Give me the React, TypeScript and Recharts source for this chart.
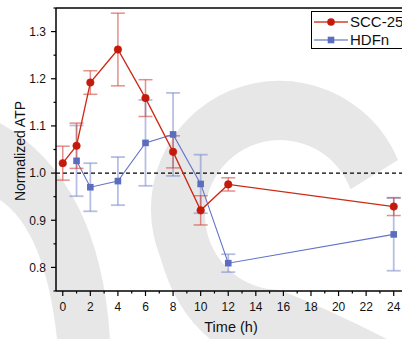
import React from "react";
import {
  LineChart,
  Line,
  XAxis,
  YAxis,
  ErrorBar,
  ReferenceLine,
  Legend,
} from "recharts";

const FONT = "'Liberation Sans', Arial, sans-serif";

// SCC-25 (red circles)
const sccTime = [0, 1, 2, 4, 6, 8, 10, 12, 24];
const sccMean = [1.021, 1.058, 1.192, 1.262, 1.159, 1.045, 0.921, 0.976, 0.929];
const sccErr = [0.036, 0.048, 0.025, 0.077, 0.039, 0.034, 0.031, 0.014, 0.019];

// HDFn (blue squares)
const hdfTime = [1, 2, 4, 6, 8, 10, 12, 24];
const hdfMean = [1.026, 0.97, 0.983, 1.064, 1.082, 0.977, 0.809, 0.87];
const hdfErr = [0.075, 0.051, 0.051, 0.091, 0.088, 0.062, 0.019, 0.077];

const xTicks = [0, 1, 2, 3, 4, 5, 6, 7, 8, 9, 10, 11, 12, 13, 14, 15, 16, 17, 18, 19, 20, 21, 22, 23, 24];
const yTicks = [0.75, 0.8, 0.85, 0.9, 0.95, 1.0, 1.05, 1.1, 1.15, 1.2, 1.25, 1.3, 1.35];

const RED = "#c41a0b";
const BLUE = "#5b6dbf";

const sccData = sccTime.map((t, i) => ({ t, v: sccMean[i], err: sccErr[i] }));
const hdfData = hdfTime.map((t, i) => ({ t, v: hdfMean[i], err: hdfErr[i] }));

const XTick = (props: any) => {
  const { x, y, payload } = props;
  const v = payload.value;
  const major = v % 2 === 0;
  return (
    <g>
      <line x1={x} x2={x} y1={y} y2={y + (major ? 5 : 2.5)} stroke="#000" strokeWidth={1.2} />
      {major && (
        <text x={x} y={y + 20} textAnchor="middle" fontSize={12} fontFamily={FONT} fill="#111">
          {v}
        </text>
      )}
    </g>
  );
};

const YTick = (props: any) => {
  const { x, y, payload } = props;
  const v = payload.value;
  const major = Math.round(v * 100) % 10 === 0;
  return (
    <g>
      <line x1={x - (major ? 5 : 2.5)} x2={x} y1={y} y2={y} stroke="#000" strokeWidth={1.2} />
      {major && (
        <text x={x - 10} y={y + 4.3} textAnchor="end" fontSize={12} fontFamily={FONT} fill="#111">
          {v.toFixed(1)}
        </text>
      )}
    </g>
  );
};

const CircleDot = (props: any) => {
  const { cx, cy, key } = props;
  return <circle key={key} cx={cx} cy={cy} r={3.8} fill={RED} stroke={RED} strokeWidth={0.5} />;
};

const SquareDot = (props: any) => {
  const { cx, cy, key } = props;
  return <rect key={key} x={cx - 3.3} y={cy - 3.3} width={6.6} height={6.6} fill={BLUE} />;
};

const LegendBox = () => (
  <div
    style={{
      position: "relative",
      width: 110,
      height: 36,
      border: "1px solid #000",
      background: "#fff",
      fontFamily: FONT,
      fontSize: 15,
      color: "#111",
    }}
  >
    {[
      { name: "SCC-25", color: RED, line: "#d0402e", square: false, top: 10 },
      { name: "HDFn", color: BLUE, line: "#8290d2", square: true, top: 28 },
    ].map((r) => (
      <div key={r.name} style={{ position: "absolute", left: 0, top: r.top - 9, height: 18 }}>
        <svg width={38} height={18} style={{ position: "absolute", left: 1, top: 0 }}>
          <line x1={1} x2={35} y1={9} y2={9} stroke={r.line} strokeWidth={1.3} />
          {r.square ? (
            <rect x={14.7} y={5.7} width={6.6} height={6.6} fill={r.color} />
          ) : (
            <circle cx={18} cy={9} r={3.8} fill={r.color} />
          )}
        </svg>
        <span style={{ position: "absolute", left: 38, top: 0, lineHeight: "18px", whiteSpace: "nowrap" }}>
          {r.name}
        </span>
      </div>
    ))}
  </div>
);

export default function App() {
  return (
    <div
      style={{
        position: "absolute",
        left: 0,
        top: 0,
        width: 402,
        height: 339,
        overflow: "hidden",
        background: "#fff",
      }}
    >
      {/* faint watermark behind the plot */}
      <svg width={402} height={339} style={{ position: "absolute", left: 0, top: 0 }}>
        <path
          d="M 398 160 A 127 127 0 0 0 160.7 258.4 Q 175 310 210 339 L 387 339 Q 330 310 280 290 A 75 75 0 1 1 350.5 189.3 Z"
          fill="#e7e7e7"
        />
        <path d="M 0 123 Q 100 180 110 339 L 57 339 Q 45 230 0 200 Z" fill="#e7e7e7" />
      </svg>
      <div style={{ position: "absolute", left: 0, top: 0 }}>
        <LineChart width={402} height={339} margin={{ top: 8, right: 0, left: 0, bottom: 0 }}>
          <XAxis
            dataKey="t"
            type="number"
            domain={[-0.49, 24.6]}
            ticks={xTicks}
            interval={0}
            height={48}
            tickSize={0}
            tickMargin={0}
            tickLine={false}
            axisLine={{ stroke: "#000", strokeWidth: 1.5 }}
            tick={<XTick />}
            allowDataOverflow
            label={{
              content: () => (
                <text x={231} y={332} textAnchor="middle" fontSize={14.5} fontFamily={FONT} fill="#111">
                  Time (h)
                </text>
              ),
            }}
          />
          <YAxis
            type="number"
            domain={[0.75, 1.35]}
            ticks={yTicks}
            interval={0}
            width={56}
            tickSize={0}
            tickMargin={0}
            tickLine={false}
            axisLine={{ stroke: "#000", strokeWidth: 1.5 }}
            tick={<YTick />}
            allowDataOverflow
            label={{
              content: () => (
                <text
                  x={20}
                  y={151}
                  transform="rotate(-90 20 151)"
                  textAnchor="middle"
                  dominantBaseline="central"
                  fontSize={14}
                  fontFamily={FONT}
                  fill="#111"
                >
                  Normalized ATP
                </text>
              ),
            }}
          />
          <ReferenceLine y={1.35} stroke="#000" strokeWidth={1.5} ifOverflow="visible" />
          <ReferenceLine y={1} stroke="#000" strokeWidth={1.2} strokeDasharray="4 3" />
          <Line
            data={hdfData}
            dataKey="v"
            type="linear"
            stroke="#6272c8"
            strokeWidth={1.1}
            dot={SquareDot}
            activeDot={false}
            isAnimationActive={false}
          >
            <ErrorBar dataKey="err" width={7} stroke="rgba(120,138,205,0.55)" strokeWidth={1.8} direction="y" />
          </Line>
          <Line
            data={sccData}
            dataKey="v"
            type="linear"
            stroke="#cc2a14"
            strokeWidth={1.3}
            dot={CircleDot}
            activeDot={false}
            isAnimationActive={false}
          >
            <ErrorBar dataKey="err" width={7} stroke="rgba(210,70,60,0.6)" strokeWidth={1.5} direction="y" />
          </Line>
          <Legend
            layout="vertical"
            align="center"
            verticalAlign="middle"
            wrapperStyle={{ position: "absolute", top: 11, left: 311, width: 120 }}
            content={() => <LegendBox />}
          />
        </LineChart>
      </div>
    </div>
  );
}
